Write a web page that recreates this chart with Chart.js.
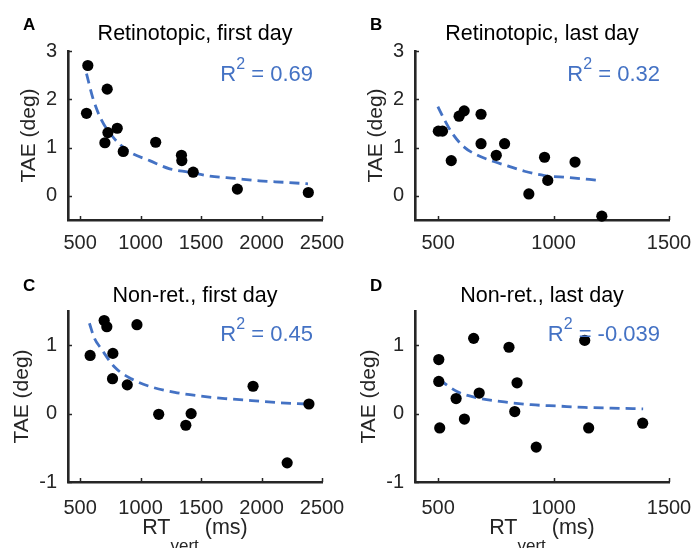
<!DOCTYPE html>
<html>
<head>
<meta charset="utf-8">
<script src="https://cdn.jsdelivr.net/npm/chart.js@4.4.1/dist/chart.umd.min.js"></script>
<style>
  html, body { margin: 0; padding: 0; background: #fff; }
  #fig { position: relative; width: 694px; height: 548px; overflow: hidden; }
  canvas { position: absolute; }
</style>
</head>
<body>
<div id="fig">
  <canvas id="chartA" width="347" height="274" style="left:0;top:0"></canvas>
  <canvas id="chartB" width="347" height="274" style="left:347px;top:0"></canvas>
  <canvas id="chartC" width="347" height="274" style="left:0;top:274px"></canvas>
  <canvas id="chartD" width="347" height="274" style="left:347px;top:274px"></canvas>
</div>
<script>
// ─── DATA (RT in ms, TAE in deg) ─────────────────────────────────────────────
const A_RT  = [564, 553, 724, 730, 705, 807, 857, 1125, 1338, 1341, 1435, 1800, 2387];
const A_TAE = [2.70, 1.71, 2.21, 1.31, 1.10, 1.40, 0.92, 1.11, 0.84, 0.73, 0.49, 0.14, 0.07];
const A_FIT_RT  = [553, 605, 669, 771, 909, 1075, 1241, 1399, 1573, 1781, 1983, 2196, 2384];
const A_FIT_TAE = [2.53, 2.03, 1.61, 1.22, 0.91, 0.73, 0.56, 0.49, 0.41, 0.36, 0.31, 0.28, 0.25];

const B_RT  = [501, 519, 557, 591, 613, 686, 686, 752, 788, 893, 961, 975, 1093, 1209];
const B_TAE = [1.34, 1.34, 0.73, 1.65, 1.76, 1.69, 1.08, 0.84, 1.08, 0.04, 0.80, 0.32, 0.70, -0.42];
const B_FIT_RT  = [499, 526, 562, 613, 671, 729, 801, 874, 961, 1062, 1200];
const B_FIT_TAE = [1.85, 1.59, 1.29, 1.01, 0.84, 0.73, 0.62, 0.51, 0.42, 0.38, 0.32];

const C_RT  = [583, 699, 721, 771, 768, 890, 970, 1150, 1374, 1418, 1930, 2212, 2392];
const C_TAE = [0.85, 1.36, 1.27, 0.88, 0.51, 0.42, 1.30, -0.01, -0.17, 0.00, 0.40, -0.72, 0.14];
const C_FIT_RT  = [577, 619, 674, 785, 923, 1089, 1283, 1476, 1698, 1919, 2140, 2376];
const C_FIT_TAE = [1.32, 1.10, 0.95, 0.68, 0.51, 0.39, 0.31, 0.26, 0.22, 0.19, 0.16, 0.14];

const D_RT  = [503, 503, 507, 578, 614, 654, 678, 807, 832, 842, 925, 1135, 1152, 1386];
const D_TAE = [0.79, 0.47, -0.21, 0.22, -0.08, 1.10, 0.30, 0.97, 0.03, 0.45, -0.49, 1.07, -0.21, -0.14];
const D_FIT_RT  = [503, 584, 671, 787, 903, 1019, 1135, 1251, 1388];
const D_FIT_TAE = [0.50, 0.32, 0.23, 0.17, 0.13, 0.11, 0.09, 0.08, 0.07];

const X_TICKS_LONG  = [500, 1000, 1500, 2000, 2500];
const X_TICKS_SHORT = [500, 1000, 1500];
const Y_TICKS_TOP    = [0, 1, 2, 3];
const Y_TICKS_BOTTOM = [-1, 0, 1];

// ─── STYLE ───────────────────────────────────────────────────────────────────
const FONT     = "'Liberation Sans', Arial, Helvetica, sans-serif";
const AXIS_CLR = '#262626';
const FIT_CLR  = '#4472c4';

// letters, titles, R², axis titles and inward tick marks
const decorPlugin = {
  id: 'decor',
  afterDraw(chart, args, o) {
    const ctx = chart.ctx;
    const area = chart.chartArea;
    ctx.save();

    // inward ticks
    ctx.strokeStyle = AXIS_CLR;
    ctx.lineWidth = 1.5;
    const xs = chart.scales.x, ys = chart.scales.y;
    xs.ticks.forEach(t => {
      const px = Math.round(xs.getPixelForValue(t.value)) + 0.5;
      ctx.beginPath(); ctx.moveTo(px, area.bottom); ctx.lineTo(px, area.bottom - 4); ctx.stroke();
    });
    ys.ticks.forEach(t => {
      const py = Math.round(ys.getPixelForValue(t.value)) + 0.5;
      ctx.beginPath(); ctx.moveTo(area.left, py); ctx.lineTo(area.left + 4, py); ctx.stroke();
    });

    // panel letter
    ctx.fillStyle = '#000';
    ctx.textBaseline = 'alphabetic';
    ctx.textAlign = 'left';
    ctx.font = `bold 17px ${FONT}`;
    ctx.fillText(o.letter, 23, o.letterY);

    // title
    ctx.textAlign = 'center';
    ctx.font = `21.5px ${FONT}`;
    ctx.fillText(o.title, (area.left + area.right) / 2, o.titleY);

    // R² annotation
    ctx.fillStyle = FIT_CLR;
    ctx.textAlign = 'left';
    ctx.font = `22px ${FONT}`;
    const wR = ctx.measureText('R').width;
    const rest = ' = ' + o.r2;
    const wRest = ctx.measureText(rest).width;
    ctx.font = `16px ${FONT}`;
    const w2 = ctx.measureText('2').width;
    let x0 = area.right - 9 - (wR + w2 + wRest);
    const by = area.top + 30;
    ctx.font = `22px ${FONT}`;
    ctx.fillText('R', x0, by);
    ctx.font = `16px ${FONT}`;
    ctx.fillText('2', x0 + wR, by - 12);
    ctx.font = `22px ${FONT}`;
    ctx.fillText(rest, x0 + wR + w2, by);

    // y axis title
    ctx.fillStyle = AXIS_CLR;
    ctx.save();
    ctx.translate(o.yTitleX, (area.top + area.bottom) / 2);
    ctx.rotate(-Math.PI / 2);
    ctx.textAlign = 'center';
    ctx.font = `21px ${FONT}`;
    ctx.fillText('TAE (deg)', 0, 0);
    ctx.restore();

    // x axis title (bottom row only)
    if (o.xTitle) {
      const cx = (area.left + area.right) / 2;
      const base = 260;
      ctx.textAlign = 'left';
      ctx.font = `21.5px ${FONT}`;
      const wRT = ctx.measureText('RT').width;
      const wMs = ctx.measureText(' (ms)').width;
      ctx.font = `17px ${FONT}`;
      const wSub = ctx.measureText('vert').width;
      let xx = cx - (wRT + wSub + wMs) / 2;
      ctx.font = `21.5px ${FONT}`;
      ctx.fillText('RT', xx, base);
      ctx.font = `17px ${FONT}`;
      ctx.fillText('vert', xx + wRT, base + 17);
      ctx.font = `21.5px ${FONT}`;
      ctx.fillText(' (ms)', xx + wRT + wSub, base);
    }
    ctx.restore();
  }
};

function buildPanel(id, rt, tae, fitRt, fitTae, xTicks, yTicks, xMax, yMin, yMax, top, decor) {
  const toPts = (xs, ys) => xs.map((x, i) => ({ x, y: ys[i] }));
  const bottom = top === 51 ? 220 : 208;
  new Chart(document.getElementById(id), {
    type: 'scatter',
    data: {
      datasets: [
        {
          data: toPts(fitRt, fitTae),
          showLine: true,
          borderColor: FIT_CLR,
          borderWidth: 2.8,
          borderDash: [10, 6],
          borderCapStyle: 'butt',
          pointRadius: 0,
          cubicInterpolationMode: 'monotone',
          fill: false,
          order: 2,
        },
        {
          data: toPts(rt, tae),
          backgroundColor: '#000',
          borderWidth: 0,
          pointRadius: 5.6,
          clip: false,
          order: 1,
        }
      ]
    },
    options: {
      responsive: false,
      animation: false,
      layout: { padding: { top, right: 25, left: 0, bottom: 0 } },
      plugins: {
        legend: { display: false },
        tooltip: { enabled: false },
        decor,
      },
      scales: {
        x: {
          type: 'linear',
          min: 400,
          max: xMax,
          afterBuildTicks: s => { s.ticks = xTicks.map(v => ({ value: v })); },
          afterFit: s => { s.height = 274 - bottom; s.paddingLeft = 0; s.paddingRight = 0; },
          grid: { display: true, drawOnChartArea: false, drawTicks: false },
          border: { display: true, color: AXIS_CLR, width: 2.6 },
          ticks: {
            color: AXIS_CLR, font: { family: FONT, size: 20 },
            padding: top === 51 ? 11 : 14, maxRotation: 0,
            callback: v => String(v),
          },
        },
        y: {
          type: 'linear',
          min: yMin,
          max: yMax,
          afterBuildTicks: s => { s.ticks = yTicks.map(v => ({ value: v })); },
          afterFit: s => { s.width = 68; s.paddingTop = 0; s.paddingBottom = 0; },
          grid: { display: true, drawOnChartArea: false, drawTicks: false },
          border: { display: true, color: AXIS_CLR, width: 2.6 },
          ticks: {
            color: AXIS_CLR, font: { family: FONT, size: 20 }, padding: 11,
            callback: v => String(v),
          },
        }
      }
    },
    plugins: [decorPlugin]
  });
}

buildPanel('chartA', A_RT, A_TAE, A_FIT_RT, A_FIT_TAE, X_TICKS_LONG, Y_TICKS_TOP, 2500, -0.5, 3, 51,
  { letter: 'A', letterY: 30, title: 'Retinotopic, first day', titleY: 40, r2: '0.69', yTitleX: 35 });
buildPanel('chartB', B_RT, B_TAE, B_FIT_RT, B_FIT_TAE, X_TICKS_SHORT, Y_TICKS_TOP, 1500, -0.5, 3, 51,
  { letter: 'B', letterY: 30, title: 'Retinotopic, last day', titleY: 40, r2: '0.32', yTitleX: 35 });
buildPanel('chartC', C_RT, C_TAE, C_FIT_RT, C_FIT_TAE, X_TICKS_LONG, Y_TICKS_BOTTOM, 2500, -1, 1.5, 37,
  { letter: 'C', letterY: 17, title: 'Non-ret., first day', titleY: 28, r2: '0.45', yTitleX: 28, xTitle: true });
buildPanel('chartD', D_RT, D_TAE, D_FIT_RT, D_FIT_TAE, X_TICKS_SHORT, Y_TICKS_BOTTOM, 1500, -1, 1.5, 37,
  { letter: 'D', letterY: 17, title: 'Non-ret., last day', titleY: 28, r2: '-0.039', yTitleX: 28, xTitle: true });
</script>
</body>
</html>
